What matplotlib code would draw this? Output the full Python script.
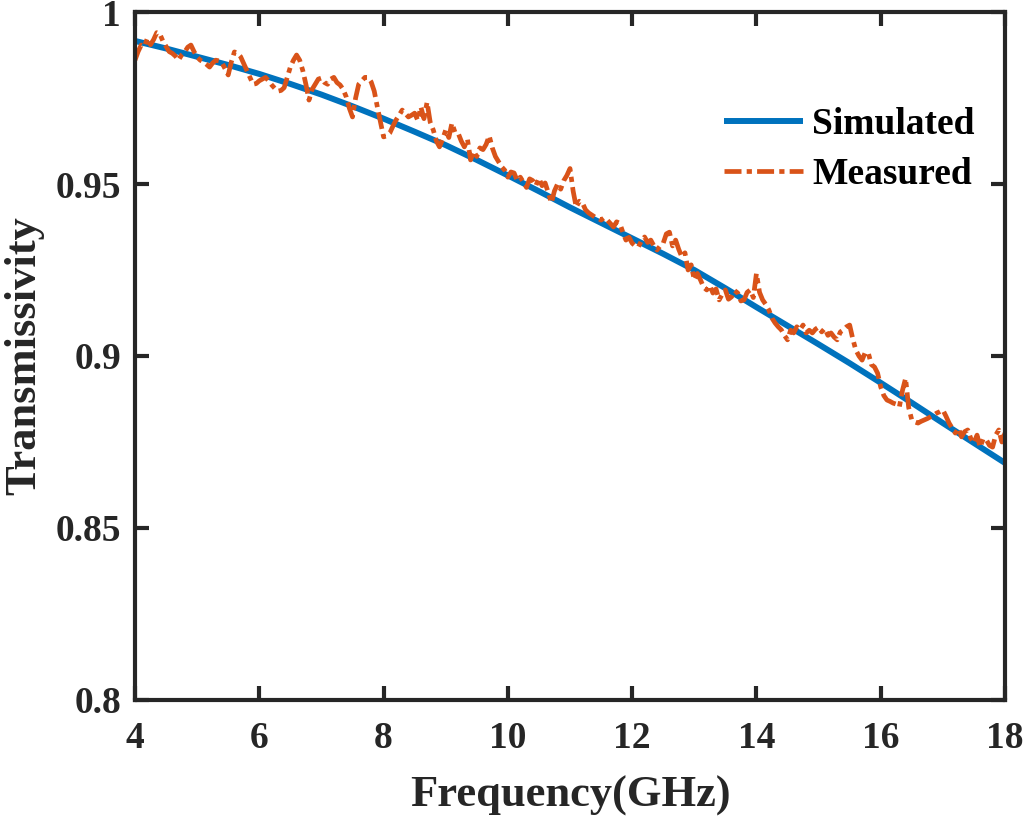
import numpy as np
import matplotlib.pyplot as plt

# simulated transmissivity (read at 0.5 GHz steps)
sim_freq = np.arange(4.0, 18.01, 0.5)
sim_trans = [0.9916, 0.9894, 0.9870, 0.9846, 0.9820, 0.9791, 0.9760, 0.9726,
             0.9690, 0.9652, 0.9613, 0.9570, 0.9525, 0.9479, 0.9432, 0.9387,
             0.9342, 0.9297, 0.9250, 0.9197, 0.9142, 0.9088, 0.9034, 0.8979,
             0.8922, 0.8864, 0.8805, 0.8747, 0.8689]

# measured transmissivity, 4 to 18 GHz in 0.05 GHz steps
meas_freq = np.arange(4.0, 18.001, 0.05)
meas_trans = [
    0.986, 0.9885, 0.9904, 0.990, 0.9924, 0.9905, 0.992, 0.994, 0.9936, 0.9915,
    0.990, 0.9885, 0.988, 0.9872, 0.986, 0.9875, 0.9884, 0.9898, 0.9904, 0.9885,
    0.9869, 0.986, 0.9855, 0.9848, 0.984, 0.9852, 0.986, 0.9858, 0.9852, 0.9835,
    0.9817, 0.9855, 0.9884, 0.988, 0.987, 0.985, 0.983, 0.981, 0.979, 0.9792,
    0.980, 0.9805, 0.981, 0.980, 0.9788, 0.9778, 0.977, 0.9772, 0.978, 0.981,
    0.984, 0.986, 0.9875, 0.986, 0.983, 0.979, 0.9744, 0.9775, 0.979, 0.9805,
    0.9808, 0.9795, 0.979, 0.9805, 0.981, 0.9795, 0.9788, 0.9775, 0.9753, 0.972,
    0.9695, 0.975, 0.979, 0.980, 0.981, 0.981, 0.9797, 0.977, 0.9724, 0.968,
    0.9637, 0.9640, 0.9648, 0.9668, 0.9686, 0.970, 0.9715, 0.9705, 0.9695, 0.9700,
    0.9706, 0.9685, 0.9724, 0.9690, 0.9738, 0.968, 0.9657, 0.9625, 0.9608, 0.963,
    0.9657, 0.9635, 0.9677, 0.9650, 0.9648, 0.9625, 0.9608, 0.9630, 0.957, 0.9595,
    0.958, 0.9605, 0.960, 0.9615, 0.9640, 0.9605, 0.958, 0.9565, 0.955, 0.9540,
    0.952, 0.9535, 0.9532, 0.951, 0.952, 0.9505, 0.949, 0.9515, 0.951, 0.9495,
    0.9517, 0.9495, 0.9503, 0.9475, 0.9445, 0.948, 0.950, 0.9485, 0.951, 0.9525,
    0.9545, 0.9480, 0.9433, 0.9450, 0.9445, 0.9425, 0.9416, 0.9410, 0.9404, 0.9400,
    0.9395, 0.9402, 0.9395, 0.9385, 0.9375, 0.9390, 0.9386, 0.9360, 0.9337, 0.9345,
    0.9328, 0.9320, 0.9317, 0.9335, 0.9346, 0.9330, 0.9337, 0.9320, 0.9308, 0.9320,
    0.9328, 0.9355, 0.936, 0.932, 0.9337, 0.931, 0.9288, 0.9300, 0.925, 0.9265,
    0.9221, 0.9240, 0.9221, 0.9200, 0.9192, 0.9205, 0.9183, 0.9195, 0.9163, 0.9180,
    0.9192, 0.9165, 0.9172, 0.9190, 0.9183, 0.9160, 0.9163, 0.9185, 0.9192, 0.9170,
    0.924, 0.9185, 0.9163, 0.9150, 0.9134, 0.9110, 0.9096, 0.9085, 0.9076, 0.9060,
    0.9047, 0.9075, 0.9067, 0.9085, 0.9076, 0.9090, 0.9067, 0.9075, 0.9067, 0.9078,
    0.9084, 0.9070, 0.908, 0.9060, 0.9067, 0.9055, 0.9047, 0.9070, 0.9076, 0.9085,
    0.909, 0.9050, 0.9017, 0.9000, 0.8988, 0.9010, 0.9009, 0.8975, 0.8968, 0.8950,
    0.891, 0.8885, 0.8872, 0.8868, 0.8863, 0.8860, 0.8852, 0.8900, 0.8935, 0.8850,
    0.8814, 0.8808, 0.8805, 0.8810, 0.8814, 0.8818, 0.8823, 0.8828, 0.8834, 0.8838,
    0.8843, 0.8825, 0.8805, 0.8790, 0.8776, 0.8790, 0.8765, 0.8780, 0.8785, 0.8760,
    0.8747, 0.8770, 0.8735, 0.8760, 0.8756, 0.8740, 0.8735, 0.8770, 0.8785, 0.8750,
    0.8776]

x_ticks = [4, 6, 8, 10, 12, 14, 16, 18]
y_ticks = [0.8, 0.85, 0.9, 0.95, 1.0]
y_tick_labels = ['0.8', '0.85', '0.9', '0.95', '1']

plt.rcParams['font.family'] = ['Liberation Serif', 'DejaVu Serif']
plt.rcParams['font.weight'] = 'bold'

fig = plt.figure(figsize=(10.25, 8.18), dpi=100)
ax = fig.add_axes([0.1317, 0.1443, 0.8488, 0.841])

ax.plot(sim_freq, sim_trans, color='#0072BD', lw=4.3, label='Simulated',
        solid_capstyle='butt')
ax.plot(meas_freq, meas_trans, color='#D95319', lw=3.4, ls='-.',
        dashes=(3.6, 1.1, 1.1, 1.1), label='Measured')

ax.set_xlim(4, 18)
ax.set_ylim(0.8, 1.0)
ax.set_xticks(x_ticks)
ax.set_yticks(y_ticks)
ax.set_yticklabels(y_tick_labels)

for s in ax.spines.values():
    s.set_linewidth(3)
    s.set_color('#262626')
ax.tick_params(direction='in', length=10, width=3, top=True, right=True,
               labelsize=27, color='#262626', labelcolor='#262626')
ax.tick_params(axis='x', pad=15)
ax.tick_params(axis='y', pad=10)
for lab in ax.get_xticklabels() + ax.get_yticklabels():
    lab.set_fontweight('bold')

ax.set_xlabel('Frequency(GHz)', fontsize=32, fontweight='bold', labelpad=14,
              color='#262626')
ax.set_ylabel('Transmissivity', fontsize=32, fontweight='bold', labelpad=8,
              color='#262626')

leg = ax.legend(loc='upper right', bbox_to_anchor=(0.965, 0.862), frameon=False,
                handlelength=2.1, handletextpad=0.25, borderpad=0,
                borderaxespad=0, labelspacing=0.4,
                prop={'weight': 'bold', 'size': 27})

fig.savefig('out.png', dpi=100)
